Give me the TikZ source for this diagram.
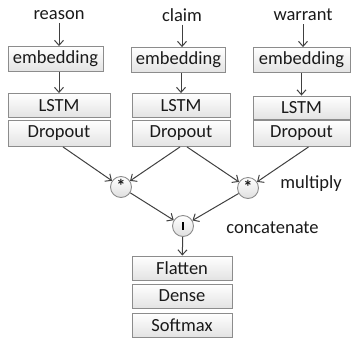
\documentclass[tikz,border=0pt]{standalone}
\usepackage{fontspec}
\setmainfont{Carlito}
\usetikzlibrary{arrows.meta,calc}
\definecolor{boxline}{HTML}{8C8C8C}
\definecolor{wire}{HTML}{404040}
\definecolor{txt}{HTML}{1A1A1A}
\begin{document}
\begin{tikzpicture}[x=1pt,y=-1pt,
  every node/.style={font=\fontsize{18.5}{20}\selectfont, text=txt, inner sep=0pt},
  layer/.style={draw=boxline, line width=0.9pt, top color=white, bottom color=gray!22,
    minimum height=25pt, anchor=center},
  op/.style={circle, draw=boxline, line width=0.9pt, top color=white, bottom color=gray!25,
    minimum size=21pt},
  wireline/.style={draw=wire, line width=1pt},
  flow/.style={wireline, -{Straight Barb[length=5pt,width=9pt,line width=1pt]}}
]
\useasboundingbox (0,0) rectangle (352,340);

% inputs
\node (reason)  at (59,15)  {reason};
\node (claim)   at (182,15) {claim};
\node (warrant) at (303,15) {warrant};

% three encoder columns
\node[layer, minimum width=95pt] (emb1) at (55.5,59) {embedding};
\node[layer, minimum width=102pt, minimum height=24pt] (lstm1) at (59,105.5) {LSTM};
\node[layer, minimum width=102pt, minimum height=26pt] (drop1) at (59,133.5) {Dropout};

\node[layer, minimum width=94pt] (emb2) at (178.5,60) {embedding};
\node[layer, minimum width=98pt, minimum height=24pt] (lstm2) at (181,105.5) {LSTM};
\node[layer, minimum width=98pt, minimum height=26pt] (drop2) at (181,133.5) {Dropout};

\node[layer, minimum width=97pt] (emb3) at (301.5,60) {embedding};
\node[layer, minimum width=97pt, minimum height=23pt] (lstm3) at (301.5,107.5) {LSTM};
\node[layer, minimum width=97pt, minimum height=26pt] (drop3) at (301.5,133.5) {Dropout};

% merge operators
\node[op] (mul1) at (121,187) {\raisebox{2pt}{\textbf{*}}};
\node[op] (mul2) at (248,188) {\raisebox{2pt}{\textbf{*}}};
\node[op] (cat)  at (183,226) {\color{black}\rule{2.6pt}{8pt}};

\node (lblmul) at (311,184) {multiply};
\node (lblcat) at (272.5,228) {concatenate};

% output head
\node[layer, minimum width=100pt, minimum height=24pt] (flat) at (182,268) {Flatten};
\node[layer, minimum width=100pt, minimum height=24pt] (dense) at (182,296) {Dense};
\node[layer, minimum width=100pt, minimum height=24pt] (soft) at (182,325) {Softmax};

% input arrows
\draw[flow] ([yshift=-3pt]reason.south) -- (reason.south |- emb1.north);
\draw[flow] ([yshift=-3pt]claim.south) -- (claim.south |- emb2.north);
\draw[flow] ([yshift=-3pt]warrant.south) -- (warrant.south |- emb3.north);

\draw[flow] (lstm1.north |- emb1.south) -- (lstm1.north);
\draw[flow] (lstm2.north |- emb2.south) -- (lstm2.north);
\draw[flow] (lstm3.north |- emb3.south) -- (lstm3.north);

% pairwise products
\draw[flow] ([xshift=4pt]drop1.south) -- (mul1);
\draw[flow] ([xshift=-1pt]drop2.south) -- (mul1);
\draw[flow] ([xshift=6pt]drop2.south) -- (mul2);
\draw[flow] ([xshift=7pt]drop3.south) -- (mul2);

% concatenation
\draw[flow] (mul1) -- (cat);
\draw[flow] (mul2) -- (cat);
\draw[flow] (cat) -- (flat);
\end{tikzpicture}
\end{document}
